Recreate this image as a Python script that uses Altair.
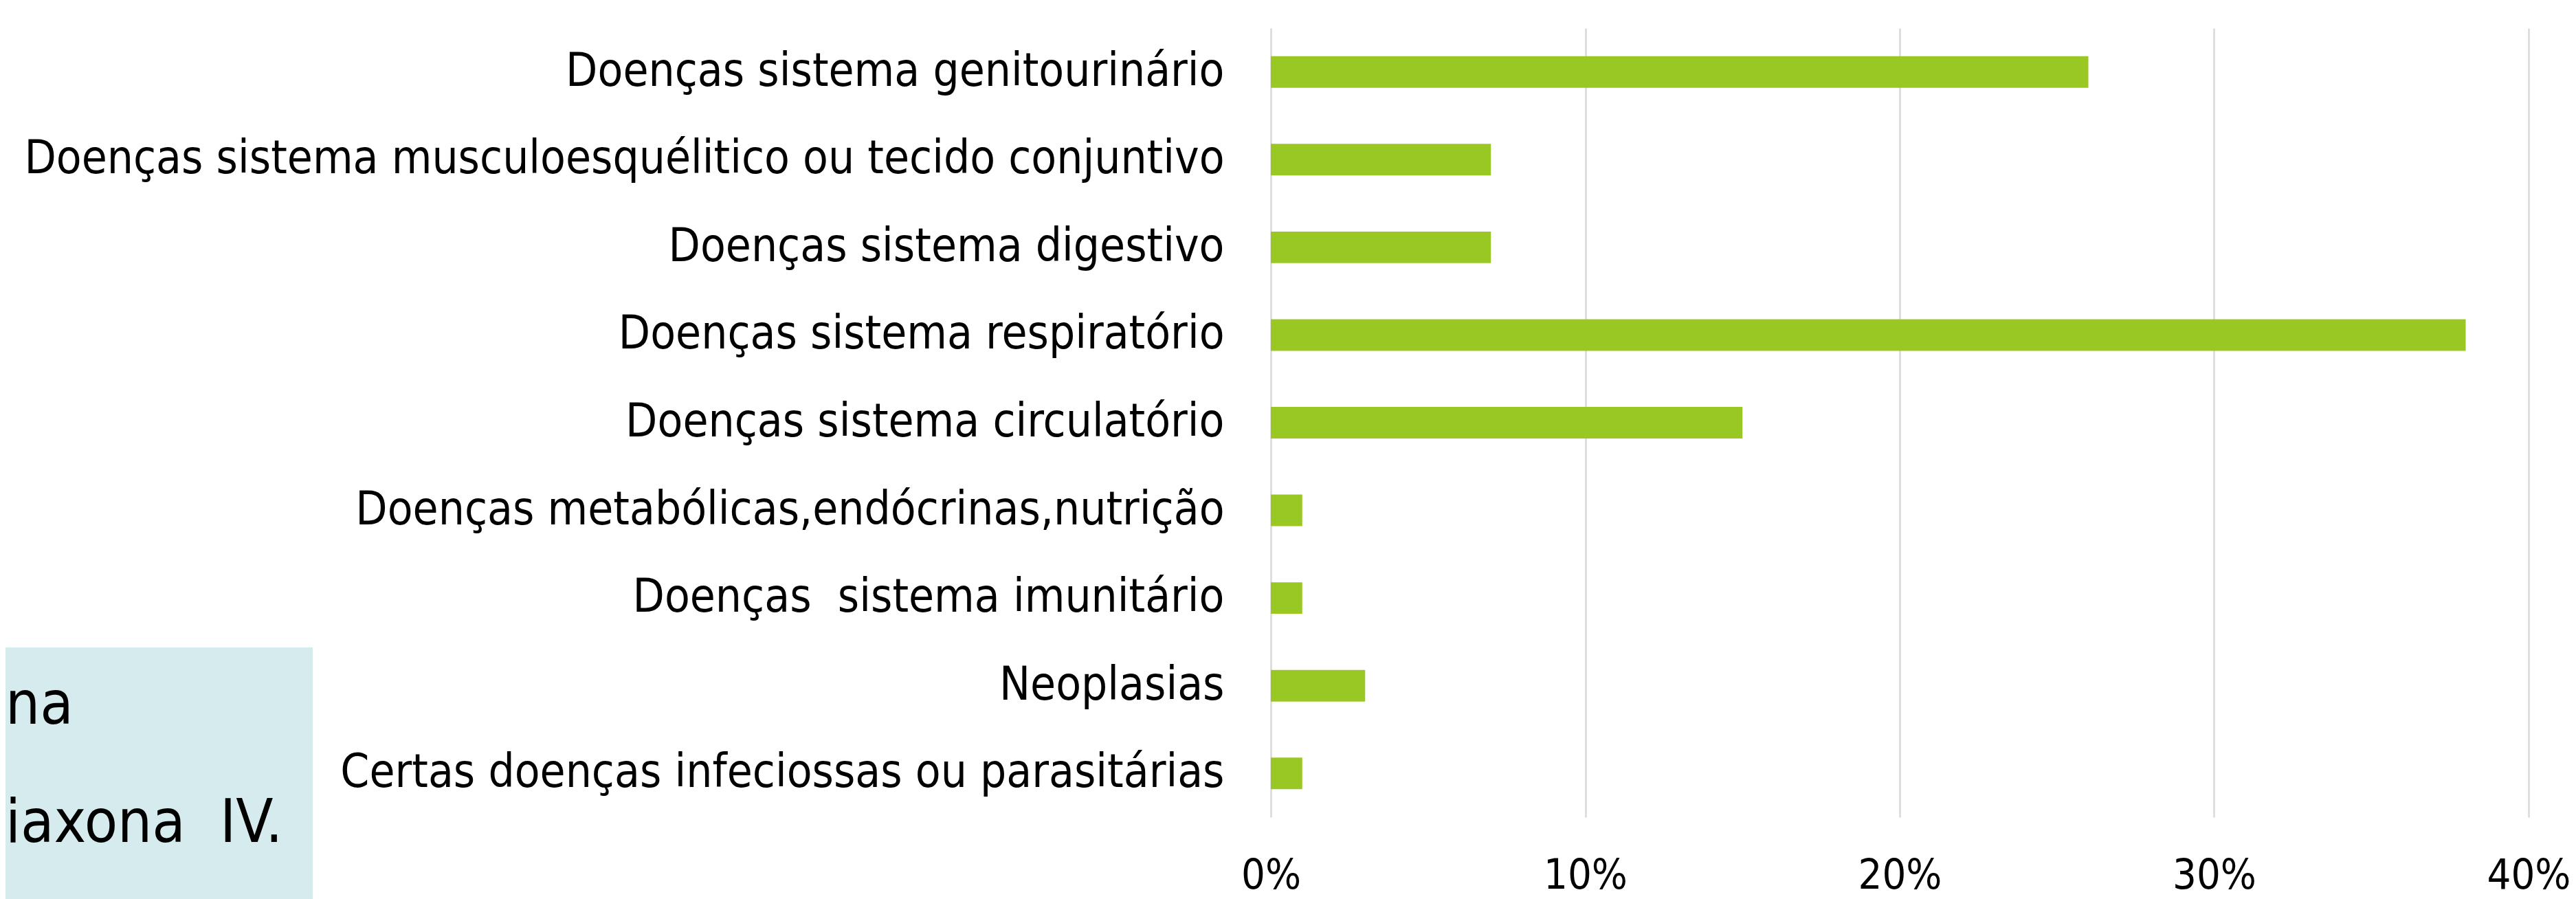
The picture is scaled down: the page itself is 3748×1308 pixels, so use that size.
import altair as alt
import pandas as pd

categories = [
    "Doenças sistema genitourinário",
    "Doenças sistema musculoesquélitico ou tecido conjuntivo",
    "Doenças sistema digestivo",
    "Doenças sistema respiratório",
    "Doenças sistema circulatório",
    "Doenças metabólicas,endócrinas,nutrição",
    "Doenças\u00a0 sistema imunitário",
    "Neoplasias",
    "Certas doenças infeciossas ou parasitárias",
]
values = [0.26, 0.07, 0.07, 0.38, 0.15, 0.01, 0.01, 0.03, 0.01]
x_ticks = [0, 0.1, 0.2, 0.3, 0.4]
box_lines = ["na", "iaxona\u00a0 IV."]

FONT = "Liberation Sans Narrow, DejaVu Sans Condensed, Open Sans"
FS = 67

df = pd.DataFrame({"cat": categories, "val": values})

bars = alt.Chart(df).mark_bar(color="#99C724").encode(
    x=alt.X(
        "val:Q",
        scale=alt.Scale(domain=[0, 0.4], nice=False),
        axis=alt.Axis(
            values=x_ticks, format=".0%", title=None, domain=False, ticks=False,
            grid=True, gridColor="#D9D9D9", gridWidth=2.5,
            labelFont=FONT, labelFontSize=61, labelColor="#000000",
            labelBaseline="alphabetic", labelPadding=103, labelFlush=False,
        ),
    ),
    y=alt.Y(
        "cat:N",
        sort=categories,
        scale=alt.Scale(paddingInner=0.64, paddingOuter=0.32),
        axis=alt.Axis(
            title=None, domain=False, ticks=False, grid=False,
            labelFont=FONT, labelFontSize=FS, labelColor="#000000",
            labelPadding=68, labelLimit=3000,
        ),
    ),
)

box_df = pd.DataFrame({"a": [0]})
box = alt.Chart(box_df).mark_rect(color="#D6EBEE").encode(
    x=alt.value(-1849), x2=alt.value(-1394), y=alt.value(901), y2=alt.value(1267)
)

txt_df = pd.DataFrame({"t": box_lines, "yy": [1012, 1184]})
box_text = alt.Chart(txt_df).mark_text(
    align="left", baseline="alphabetic", font=FONT, fontSize=88, color="#000000"
).encode(text="t:N", x=alt.value(-1841), y=alt.Y("yy:Q", scale=None))

chart = alt.layer(box, box_text, bars).properties(
    width=1830, height=1148,
    padding={"left": 1841, "top": 33, "right": 60, "bottom": 119},
    autosize=alt.AutoSizeParams(type="none"),
).configure_view(stroke=None)

chart.save("out.html", embed_options={"renderer": "svg", "actions": False})
